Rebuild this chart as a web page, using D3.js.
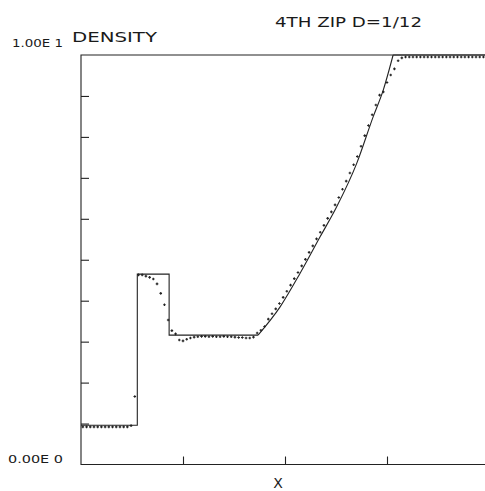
<!DOCTYPE html>
<html>
<head>
<meta charset="utf-8">
<script src="https://cdn.jsdelivr.net/npm/d3@7"></script>
<style>
  html, body { margin: 0; padding: 0; background: #fff; }
  svg { display: block; }
  text { font-family: "DejaVu Sans", "Liberation Sans", sans-serif; fill: #1a1a1a; }
</style>
</head>
<body>
<div id="chart"></div>
<script>
// ---------- data ----------
const title = "4TH ZIP D=1/12";
const yTitle = "DENSITY";
const xTitle = "X";
const yTopLabel = "1.00E 1";
const yBottomLabel = "0.00E 0";
const yTickValues = [1, 2, 3, 4, 5, 6, 7, 8, 9];
const xTickValues = [0.25, 0.5, 0.75];

// exact solution (solid line): step part, rarefaction fan, right state
const exactStepX   = [0, 0.138, 0.138, 0.216, 0.216, 0.434];
const exactStepRho = [0.96, 0.96, 4.65, 4.65, 3.16, 3.16];
const fanX   = [0.434, 0.488, 0.537, 0.586, 0.627, 0.676, 0.716, 0.741, 0.765];
const fanRho = [3.16, 3.85, 4.67, 5.56, 6.30, 7.36, 8.49, 9.15, 10.0];
const rightX   = [0.765, 1.0];
const rightRho = [10.0, 10.0];

// numerical solution (dots), one value per cell
const cellCount = 110;
const numRho = [
  0.92, 0.92, 0.92, 0.92, 0.92, 0.92, 0.92, 0.92, 0.92, 0.92, 0.92, 0.92, 0.92,
  0.95, 1.66,
  4.63, 4.63, 4.60, 4.57, 4.53, 4.41, 4.18, 3.90, 3.53, 3.27, 3.19, 3.04, 3.02,
  3.06, 3.09, 3.11,
  3.12, 3.13, 3.13, 3.12, 3.13, 3.12, 3.12, 3.13, 3.12, 3.12, 3.11, 3.10, 3.10,
  3.09, 3.09, 3.11,
  3.21, 3.28, 3.37,
  3.55, 3.68, 3.80, 3.93, 4.08, 4.23, 4.38, 4.54, 4.69, 4.85,
  5.01, 5.18, 5.34, 5.51, 5.67, 5.84, 6.01, 6.17, 6.34, 6.52,
  6.72, 6.92, 7.12, 7.32, 7.52, 7.77, 8.03, 8.28, 8.54, 8.78, 9.02,
  9.10, 9.33, 9.51, 9.66, 9.86, 9.93,
  9.95, 9.95, 9.95, 9.95, 9.95, 9.95, 9.95, 9.95, 9.95, 9.95, 9.95, 9.95,
  9.95, 9.95, 9.95, 9.95, 9.95, 9.95, 9.95, 9.95, 9.95, 9.95, 9.95
];

// ---------- layout ----------
const W = 485, H = 491;
const plot = { left: 81, right: 489, top: 55, bottom: 464.5 };
const ink = "#222";

const svg = d3.select("#chart").append("svg")
  .attr("width", W).attr("height", H)
  .attr("viewBox", `0 0 ${W} ${H}`);
svg.append("rect").attr("width", W).attr("height", H).attr("fill", "#fff");

const x = d3.scaleLinear().domain([0, 1]).range([plot.left, plot.right]);
const y = d3.scaleLinear().domain([0, 10]).range([plot.bottom, plot.top]);

// frame
const g = svg.append("g");
g.append("path")
  .attr("d", `M${x(1)},${y(10)}H${x(0)}V${y(0)}H${x(1)}`)
  .attr("fill", "none").attr("stroke", ink).attr("stroke-width", 1.1);

// y axis ticks (inward)
const yAxis = d3.axisRight(y).tickValues(yTickValues).tickSize(8).tickFormat("");
g.append("g").attr("transform", `translate(${x(0)},0)`).call(yAxis)
  .call(s => s.select(".domain").remove())
  .call(s => s.selectAll("line").attr("stroke", ink).attr("stroke-width", 1.1));

// x axis ticks (inward, pointing up)
const xAxis = d3.axisTop(x).tickValues(xTickValues).tickSize(8).tickFormat("");
g.append("g").attr("transform", `translate(0,${y(0)})`).call(xAxis)
  .call(s => s.select(".domain").remove())
  .call(s => s.selectAll("line").attr("stroke", ink).attr("stroke-width", 1.1));

// exact line
const toPts = (xs, ys) => xs.map((v, i) => [v, ys[i]]);
const lineLin = d3.line().x(d => x(d[0])).y(d => y(d[1]));
const lineSmooth = d3.line().x(d => x(d[0])).y(d => y(d[1])).curve(d3.curveMonotoneX);
[[toPts(exactStepX, exactStepRho), lineLin],
 [toPts(fanX, fanRho), lineSmooth],
 [toPts(rightX, rightRho), lineLin]].forEach(([data, gen]) => {
  g.append("path").datum(data)
    .attr("d", gen)
    .attr("fill", "none").attr("stroke", ink).attr("stroke-width", 1.1);
});

// numerical points as small plus marks
const pts = numRho.map((r, i) => [(i + 0.5) / cellCount, r]);
g.append("g").selectAll("path").data(pts).join("path")
  .attr("d", d => {
    const px = x(d[0]), py = y(d[1]);
    return `M${px - 1.3},${py}H${px + 1.3}M${px},${py - 1.3}V${py + 1.3}`;
  })
  .attr("stroke", ink).attr("stroke-width", 1.1).attr("fill", "none");

// texts (plotter-style: wide glyphs)
function label(txt, px, py, size, len, anchor) {
  const t = svg.append("text").attr("x", px).attr("y", py)
    .attr("font-size", size)
    .text(txt);
  if (len) t.attr("textLength", len).attr("lengthAdjust", "spacingAndGlyphs");
  if (anchor) t.attr("text-anchor", anchor);
  return t;
}
label(title, 275, 27, 14, 147);
label(yTitle, 72, 42, 13.5, 85);
label(yTopLabel, 12, 47, 10, 51);
label(yBottomLabel, 8, 463, 10, 55);
label(xTitle, 278, 488, 14, null, "middle");
</script>
</body>
</html>
